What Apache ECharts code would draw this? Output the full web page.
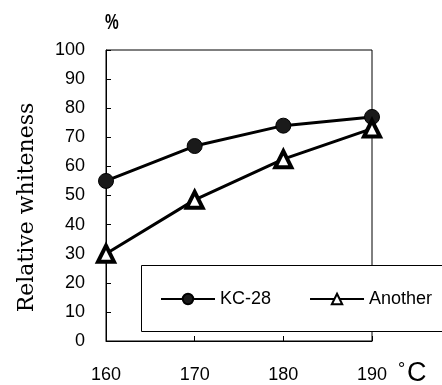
<!DOCTYPE html>
<html>
<head>
<meta charset="utf-8">
<script src="https://cdn.jsdelivr.net/npm/echarts@6/dist/echarts.min.js"></script>
<style>
  html, body { margin: 0; padding: 0; background: #fff; }
  #chart { width: 442px; height: 385px; }
</style>
</head>
<body>
<div id="chart"></div>
<script>
// Drying temperature (°C) against relative whiteness (%)
const temperatures = [160, 170, 180, 190];
const kc28 = [55, 67, 74, 77];
const another = [30, 48.5, 62.5, 73];
const seriesNames = ['KC-28', 'Another'];
const yTicks = { min: 0, max: 100, step: 10 };
const xTicks = { min: 160, max: 190, step: 10 };

const sans = 'Liberation Sans, Arial, sans-serif';
const serif = 'DejaVu Serif, Liberation Serif, serif';

const chart = echarts.init(document.getElementById('chart'), null, { renderer: 'canvas' });

chart.setOption({
  backgroundColor: '#fff',
  animation: false,
  grid: {
    left: 106, right: 70, top: 50, bottom: 44,
    show: true, borderColor: '#000', borderWidth: 1,
    backgroundColor: 'transparent'
  },
  xAxis: {
    type: 'value',
    min: xTicks.min, max: xTicks.max, interval: xTicks.step,
    axisLine: { lineStyle: { color: '#000', width: 1 } },
    axisTick: { inside: true, length: 5, lineStyle: { color: '#000' } },
    axisLabel: { color: '#000', fontFamily: sans, fontSize: 18, margin: 25 },
    splitLine: { show: false }
  },
  yAxis: {
    type: 'value',
    min: yTicks.min, max: yTicks.max, interval: yTicks.step,
    name: 'Relative whiteness',
    nameLocation: 'middle',
    nameGap: 68,
    nameRotate: 90,
    nameTextStyle: { color: '#000', fontFamily: serif, fontSize: 22, padding: [0, 24, 0, 0] },
    axisLine: { show: true, lineStyle: { color: '#000', width: 1 } },
    axisTick: { inside: true, length: 5, lineStyle: { color: '#000' } },
    axisLabel: { color: '#000', fontFamily: sans, fontSize: 18, margin: 21 },
    splitLine: { show: false }
  },
  legend: {
    left: 160, top: 290, width: 282, z: 10, padding: 0,
    itemWidth: 54, itemHeight: 13, itemGap: 38,
    textStyle: { color: '#000', fontFamily: sans, fontSize: 18 },
    data: seriesNames
  },
  graphic: [
    {
      type: 'rect', z: 1, silent: true,
      shape: { x: 141.5, y: 265.5, width: 310, height: 66 },
      style: { fill: '#fff', stroke: '#000', lineWidth: 1 }
    },
    {
      type: 'text', left: 105, top: 12, scaleX: 0.7,
      style: { text: '%', fill: '#000', font: 'bold 22px ' + sans }
    },
    {
      type: 'text', left: 398, top: 361,
      style: { text: '°', fill: '#000', font: '18px ' + sans }
    },
    {
      type: 'text', left: 407, top: 360,
      style: { text: 'C', fill: '#000', font: '27px ' + sans }
    }
  ],
  series: [
    {
      name: seriesNames[0],
      type: 'line',
      data: temperatures.map((t, i) => [t, kc28[i]]),
      symbol: 'circle',
      symbolSize: 15,
      lineStyle: { color: '#000', width: 3 },
      itemStyle: { color: '#1a1a1a', borderColor: '#000', borderWidth: 1 },
      z: 3
    },
    {
      name: seriesNames[1],
      type: 'line',
      data: temperatures.map((t, i) => [t, another[i]]),
      symbol: 'triangle',
      symbolSize: 16,
      lineStyle: { color: '#000', width: 3 },
      itemStyle: { color: '#fff', borderColor: '#000', borderWidth: 4 },
      z: 3
    }
  ]
});
</script>
</body>
</html>
